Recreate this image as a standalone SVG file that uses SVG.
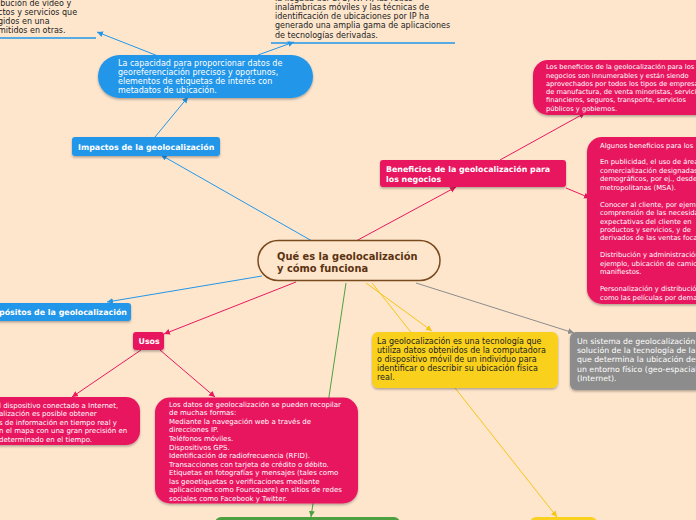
<svg xmlns="http://www.w3.org/2000/svg" width="696" height="520" viewBox="0 0 696 520">
<defs>
<style>
.t{font-family:"DejaVu Sans",Verdana,sans-serif;}
.w{fill:#ffffff;}
.k{fill:#222222;}
.b{font-weight:bold;}
.c{fill:none;stroke-width:1;}
</style>
<filter id="sh" x="-10%" y="-10%" width="120%" height="130%">
<feDropShadow dx="0" dy="1.5" stdDeviation="1" flood-color="#000" flood-opacity="0.3"/>
</filter>
<marker id="aB" markerWidth="7" markerHeight="7" refX="6" refY="3" orient="auto" markerUnits="userSpaceOnUse"><path d="M0,0 L6,3 L0,6 z" fill="#2196E8"/></marker>
<marker id="aP" markerWidth="7" markerHeight="7" refX="6" refY="3" orient="auto" markerUnits="userSpaceOnUse"><path d="M0,0 L6,3 L0,6 z" fill="#E8195E"/></marker>
<marker id="aY" markerWidth="7" markerHeight="7" refX="6" refY="3" orient="auto" markerUnits="userSpaceOnUse"><path d="M0,0 L6,3 L0,6 z" fill="#F5C518"/></marker>
<marker id="aG" markerWidth="7" markerHeight="7" refX="6" refY="3" orient="auto" markerUnits="userSpaceOnUse"><path d="M0,0 L6,3 L0,6 z" fill="#4CA040"/></marker>
<marker id="aK" markerWidth="7" markerHeight="7" refX="6" refY="3" orient="auto" markerUnits="userSpaceOnUse"><path d="M0,0 L6,3 L0,6 z" fill="#8C8C8C"/></marker>
</defs>
<rect x="0" y="0" width="696" height="520" fill="#FEE6CD"/>

<g id="connectors">
<path class="c" d="M158,56 L97,32" stroke="#2196E8" marker-end="url(#aB)"/>
<path class="c" d="M258,55 L294,42" stroke="#2196E8" marker-end="url(#aB)"/>
<path class="c" d="M155,137 L188,97" stroke="#2196E8" marker-end="url(#aB)"/>
<path class="c" d="M312,241 L161,155" stroke="#2196E8" marker-end="url(#aB)"/>
<path class="c" d="M262,276 L107,302" stroke="#2196E8" marker-end="url(#aB)"/>
<path class="c" d="M296,282 L164,334" stroke="#E8195E" marker-end="url(#aP)"/>
<path class="c" d="M141,350 L72,397" stroke="#E8195E" marker-end="url(#aP)"/>
<path class="c" d="M160,350 L215,397" stroke="#E8195E" marker-end="url(#aP)"/>
<path class="c" d="M356,241 L456,187" stroke="#E8195E" marker-end="url(#aP)"/>
<path class="c" d="M500,160 L585,113" stroke="#E8195E" marker-end="url(#aP)"/>
<path class="c" d="M566,188 L590,198" stroke="#E8195E" marker-end="url(#aP)"/>
<path class="c" d="M346,283 L311,517" stroke="#4CA040" marker-end="url(#aG)"/>
<path class="c" d="M366,283 L432,331" stroke="#F5C518" marker-end="url(#aY)"/>
<path class="c" d="M372,283 L557,517" stroke="#F5C518" marker-end="url(#aY)"/>
<path class="c" d="M416,283 L574,333" stroke="#8C8C8C" marker-end="url(#aK)"/>
</g>

<g id="note-topleft">
<text class="t k" font-size="8" x="-2" y="5.5">ibución de vídeo y</text>
<text class="t k" font-size="8" x="-2" y="14.8">ctos y servicios que</text>
<text class="t k" font-size="8" x="-2" y="24.1">gidos en una</text>
<text class="t k" font-size="8" x="-2" y="33.4">mitidos en otras.</text>
<line x1="0" y1="38" x2="96" y2="38" stroke="#2196E8" stroke-width="1.5"/>
</g>

<g id="note-topmid">
<text class="t k" font-size="8" x="275" y="0.5">la llegada del GPS, Wi-Fi, las redes</text>
<text class="t k" font-size="8" x="275" y="9.8">inalámbricas móviles y las técnicas de</text>
<text class="t k" font-size="8" x="275" y="19.1">identificación de ubicaciones por IP ha</text>
<text class="t k" font-size="8" x="275" y="28.4">generado una amplia gama de aplicaciones</text>
<text class="t k" font-size="8" x="275" y="37.7">de tecnologías derivadas.</text>
<line x1="271" y1="43" x2="455" y2="43" stroke="#2196E8" stroke-width="1.5"/>
</g>

<g id="node-capacidad">
<rect x="98" y="55" width="215" height="43" rx="21.5" fill="#2196E8" filter="url(#sh)"/>
<text class="t w" font-size="8" x="118" y="65.5">La capacidad para proporcionar datos de</text>
<text class="t w" font-size="8" x="118" y="74.8">georeferenciación precisos y oportunos,</text>
<text class="t w" font-size="8" x="118" y="84.1">elementos de etiquetas de interés con</text>
<text class="t w" font-size="8" x="118" y="93.4">metadatos de ubicación.</text>
</g>

<g id="node-impactos">
<rect x="72" y="137" width="148" height="19" rx="3" fill="#2196E8" filter="url(#sh)"/>
<text class="t w b" font-size="7.9" x="78" y="149.7">Impactos de la geolocalización</text>
</g>

<g id="node-center">
<rect x="258" y="240.5" width="182" height="40" rx="20" fill="#FEE6CD" stroke="#7A4A1F" stroke-width="1.5"/>
<text class="t b" font-size="9.9" fill="#5B3311" x="277" y="259.5">Qué es la geolocalización</text>
<text class="t b" font-size="9.9" fill="#5B3311" x="277" y="272">y cómo funciona</text>
</g>

<g id="node-propositos">
<rect x="-5" y="303" width="136" height="18" rx="3" fill="#2196E8" filter="url(#sh)"/>
<text class="t w b" font-size="7.9" x="-1" y="315.2">pósitos de la geolocalización</text>
</g>

<g id="node-usos">
<rect x="133" y="332" width="31" height="18" rx="3" fill="#E8195E" filter="url(#sh)"/>
<text class="t w b" font-size="7.9" x="138.5" y="344.2">Usos</text>
</g>

<g id="node-usos-internet">
<rect x="-20" y="397" width="160" height="48" rx="14" fill="#E8195E" filter="url(#sh)"/>
<text class="t w" font-size="7" x="-1" y="407.5">l dispositivo conectado a Internet,</text>
<text class="t w" font-size="7" x="-1" y="416">alización es posible obtener</text>
<text class="t w" font-size="7" x="-1" y="424.5">s de información en tiempo real y</text>
<text class="t w" font-size="7" x="-1" y="433">n el mapa con una gran precisión en</text>
<text class="t w" font-size="7" x="-1" y="441.5"> determinado en el tiempo.</text>
</g>

<g id="node-usos-datos">
<rect x="155" y="397.5" width="203" height="106" rx="15" fill="#E8195E" filter="url(#sh)"/>
<text class="t w" font-size="7" x="169" y="406.8">Los datos de geolocalización se pueden recopilar</text>
<text class="t w" font-size="7" x="169" y="415.35">de muchas formas:</text>
<text class="t w" font-size="7" x="169" y="423.9">Mediante la navegación web a través de</text>
<text class="t w" font-size="7" x="169" y="432.45">direcciones IP.</text>
<text class="t w" font-size="7" x="169" y="441">Teléfonos móviles.</text>
<text class="t w" font-size="7" x="169" y="449.55">Dispositivos GPS.</text>
<text class="t w" font-size="7" x="169" y="458.1">Identificación de radiofrecuencia (RFID).</text>
<text class="t w" font-size="7" x="169" y="466.65">Transacciones con tarjeta de crédito o débito.</text>
<text class="t w" font-size="7" x="169" y="475.2">Etiquetas en fotografías y mensajes (tales como</text>
<text class="t w" font-size="7" x="169" y="483.75">las geoetiquetas o verificaciones mediante</text>
<text class="t w" font-size="7" x="169" y="492.3">aplicaciones como Foursquare) en sitios de redes</text>
<text class="t w" font-size="7" x="169" y="500.85">sociales como Facebook y Twitter.</text>
</g>

<g id="node-beneficios">
<rect x="380" y="160" width="186" height="27" rx="3" fill="#E8195E" filter="url(#sh)"/>
<text class="t w b" font-size="7.9" x="386" y="172">Beneficios de la geolocalización para</text>
<text class="t w b" font-size="7.9" x="386" y="182">los negocios</text>
</g>

<g id="node-beneficios-intro">
<rect x="533" y="60" width="190" height="55" rx="15" fill="#E8195E" filter="url(#sh)"/>
<text class="t w" font-size="6.7" x="546" y="69.2">Los beneficios de la geolocalización para los</text>
<text class="t w" font-size="6.7" x="546" y="77.5">negocios son innumerables y están siendo</text>
<text class="t w" font-size="6.7" x="546" y="85.8">aprovechados por todos los tipos de empresas</text>
<text class="t w" font-size="6.7" x="546" y="94.1">de manufactura, de venta minoristas, servicios</text>
<text class="t w" font-size="6.7" x="546" y="102.4">financieros, seguros, transporte, servicios</text>
<text class="t w" font-size="6.7" x="546" y="110.7">públicos y gobiernos.</text>
</g>

<g id="node-beneficios-lista">
<rect x="587" y="137" width="140" height="167" rx="15" fill="#E8195E" filter="url(#sh)"/>
<text class="t w" font-size="6.8" x="600" y="147.5">Algunos beneficios para los</text>
<text class="t w" font-size="6.8" x="600" y="164.4">En publicidad, el uso de áreas</text>
<text class="t w" font-size="6.8" x="600" y="172.85">comercialización designadas</text>
<text class="t w" font-size="6.8" x="600" y="181.3">demográficos, por ej., desde</text>
<text class="t w" font-size="6.8" x="600" y="189.75">metropolitanas (MSA).</text>
<text class="t w" font-size="6.8" x="600" y="206.65">Conocer al cliente, por ejemplo,</text>
<text class="t w" font-size="6.8" x="600" y="215.1">comprensión de las necesidades</text>
<text class="t w" font-size="6.8" x="600" y="223.55">expectativas del cliente en</text>
<text class="t w" font-size="6.8" x="600" y="232">productos y servicios, y de</text>
<text class="t w" font-size="6.8" x="600" y="240.45">derivados de las ventas focalizadas</text>
<text class="t w" font-size="6.8" x="600" y="257.35">Distribución y administración</text>
<text class="t w" font-size="6.8" x="600" y="265.8">ejemplo, ubicación de camiones</text>
<text class="t w" font-size="6.8" x="600" y="274.25">manifiestos.</text>
<text class="t w" font-size="6.8" x="600" y="291.15">Personalización y distribución</text>
<text class="t w" font-size="6.8" x="600" y="299.6">como las películas por demanda</text>
</g>

<g id="node-definicion">
<rect x="372" y="332" width="186" height="56" rx="6" fill="#F9D11E" filter="url(#sh)"/>
<text class="t k" font-size="8" x="377" y="343.5">La geolocalización es una tecnología que</text>
<text class="t k" font-size="8" x="377" y="352.6">utiliza datos obtenidos de la computadora</text>
<text class="t k" font-size="8" x="377" y="361.7">o dispositivo móvil de un individuo para</text>
<text class="t k" font-size="8" x="377" y="370.8">identificar o describir su ubicación física</text>
<text class="t k" font-size="8" x="377" y="379.9">real.</text>
</g>

<g id="node-sistema">
<rect x="570" y="332" width="150" height="58" rx="6" fill="#8C8C8C" filter="url(#sh)"/>
<text class="t w" font-size="7.8" x="577" y="343.8">Un sistema de geolocalización</text>
<text class="t w" font-size="7.8" x="577" y="353.05">solución de la tecnología de la</text>
<text class="t w" font-size="7.8" x="577" y="362.3">que determina la ubicación de</text>
<text class="t w" font-size="7.8" x="577" y="371.55">un entorno físico (geo-espacial)</text>
<text class="t w" font-size="7.8" x="577" y="380.8">(Internet).</text>
</g>

<g id="node-green">
<rect x="215" y="517" width="185" height="20" rx="6" fill="#4CA040"/>
</g>

<g id="node-yellow-bottom">
<rect x="530" y="517" width="67" height="20" rx="6" fill="#F9D11E"/>
</g>
</svg>
